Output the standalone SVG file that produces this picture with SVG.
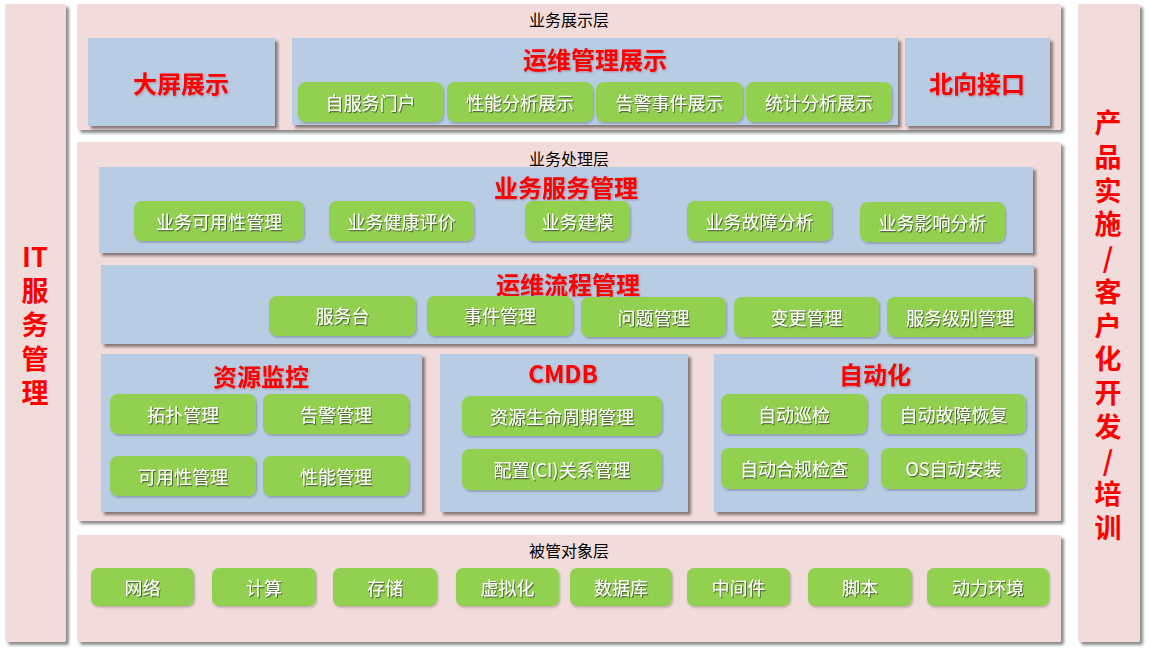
<svg xmlns="http://www.w3.org/2000/svg" width="1149" height="653" viewBox="0 0 1149 653">
<defs>
<filter id="sh" x="-5%" y="-5%" width="112%" height="120%">
<feDropShadow dx="3" dy="3" stdDeviation="1.5" flood-color="#000" flood-opacity="0.45"/>
</filter>
<filter id="gsh" x="-5%" y="-10%" width="110%" height="125%">
<feDropShadow dx="1" dy="1.5" stdDeviation="1" flood-color="#000" flood-opacity="0.25"/>
</filter>
<filter id="tsh" x="-5%" y="-20%" width="110%" height="150%">
<feDropShadow dx="1" dy="1.2" stdDeviation="0.6" flood-color="#333" flood-opacity="0.7"/>
</filter>
<filter id="rsh" x="-5%" y="-20%" width="110%" height="150%">
<feDropShadow dx="1" dy="1" stdDeviation="0.8" flood-color="#800" flood-opacity="0.3"/>
</filter>
</defs>
<style>
.layer{fill:#F2DCDB;filter:url(#sh)}
.blue{fill:#B8CCE4;filter:url(#sh)}
.g{fill:#92D050;filter:url(#gsh)}
.gt{font-family:"Noto Sans CJK SC","Noto Sans",sans-serif;font-size:18px;fill:#fff;text-anchor:middle;dominant-baseline:central;filter:url(#tsh)}
.rt{font-family:"Noto Sans CJK SC","Noto Sans",sans-serif;font-size:24px;font-weight:bold;fill:#FF0000;text-anchor:middle;dominant-baseline:central;filter:url(#rsh)}
.vt{font-family:"Noto Sans CJK SC","Noto Sans",sans-serif;font-size:27px;font-weight:bold;fill:#FF0000;text-anchor:middle;dominant-baseline:central}
.lt{font-family:"Noto Sans CJK SC","Noto Sans",sans-serif;font-size:16px;fill:#000;text-anchor:middle;dominant-baseline:central}
</style>
<rect width="1149" height="653" fill="#fff"/>

<g id="it-service">
<rect class="layer" x="5" y="4" width="61" height="638" rx="2"/>
<text class="vt"><tspan x="35" y="255">IT</tspan><tspan x="35" y="289">服</tspan><tspan x="35" y="323">务</tspan><tspan x="35" y="357">管</tspan><tspan x="35" y="391">理</tspan></text>
</g>

<g id="product-impl">
<rect class="layer" x="1078" y="4" width="62" height="638" rx="2"/>
<text class="vt"><tspan x="1108" y="121">产</tspan><tspan x="1108" y="155">品</tspan><tspan x="1108" y="189">实</tspan><tspan x="1108" y="222">施</tspan><tspan x="1108" y="256">/</tspan><tspan x="1108" y="290">客</tspan><tspan x="1108" y="324">户</tspan><tspan x="1108" y="357">化</tspan><tspan x="1108" y="391">开</tspan><tspan x="1108" y="425">发</tspan><tspan x="1108" y="459">/</tspan><tspan x="1108" y="492">培</tspan><tspan x="1108" y="526">训</tspan></text>
</g>

<g id="layer-display">
<rect class="layer" x="77" y="4" width="984" height="126" rx="2"/>
<text class="lt" x="569" y="19">业务展示层</text>
</g>
<g id="big-screen">
<rect class="blue" x="88" y="38" width="187" height="88"/>
<text class="rt" x="181" y="82">大屏展示</text>
</g>
<g id="ops-display">
<rect class="blue" x="292" y="38" width="606" height="87"/>
<text class="rt" x="595" y="58">运维管理展示</text>
<rect class="g" x="298" y="82" width="145" height="40" rx="8"/><text class="gt" x="370.5" y="102">自服务门户</text>
<rect class="g" x="447" y="82" width="146" height="40" rx="8"/><text class="gt" x="520" y="102">性能分析展示</text>
<rect class="g" x="596" y="82" width="147" height="40" rx="8"/><text class="gt" x="669.5" y="102">告警事件展示</text>
<rect class="g" x="746" y="82" width="146" height="40" rx="8"/><text class="gt" x="819" y="102">统计分析展示</text>
</g>
<g id="north-api">
<rect class="blue" x="905" y="38" width="145" height="88"/>
<text class="rt" x="977" y="82">北向接口</text>
</g>

<g id="layer-process">
<rect class="layer" x="77" y="142" width="984" height="379" rx="2"/>
<text class="lt" x="569" y="158">业务处理层</text>
</g>
<g id="biz-service">
<rect class="blue" x="99" y="167" width="934" height="86"/>
<text class="rt" x="566" y="186">业务服务管理</text>
<rect class="g" x="134" y="201" width="170" height="40" rx="8"/><text class="gt" x="219" y="221">业务可用性管理</text>
<rect class="g" x="329" y="201" width="145" height="40" rx="8"/><text class="gt" x="401.5" y="221">业务健康评价</text>
<rect class="g" x="525" y="201" width="105" height="40" rx="8"/><text class="gt" x="577.5" y="221">业务建模</text>
<rect class="g" x="687" y="201" width="145" height="40" rx="8"/><text class="gt" x="759.5" y="221">业务故障分析</text>
<rect class="g" x="860" y="202" width="145" height="40" rx="8"/><text class="gt" x="932.5" y="222">业务影响分析</text>
</g>
<g id="ops-process">
<rect class="blue" x="101" y="265" width="933" height="79"/>
<text class="rt" x="568" y="283">运维流程管理</text>
<rect class="g" x="269" y="296" width="147" height="40" rx="8"/><text class="gt" x="342.5" y="315">服务台</text>
<rect class="g" x="427" y="296" width="146" height="40" rx="8"/><text class="gt" x="500" y="315">事件管理</text>
<rect class="g" x="581" y="297" width="145" height="40" rx="8"/><text class="gt" x="653.5" y="317">问题管理</text>
<rect class="g" x="734" y="297" width="145" height="40" rx="8"/><text class="gt" x="806.5" y="317">变更管理</text>
<rect class="g" x="887" y="297" width="146" height="40" rx="8"/><text class="gt" x="960" y="317">服务级别管理</text>
</g>
<g id="resource-monitor">
<rect class="blue" x="101" y="354" width="321" height="158"/>
<text class="rt" x="261" y="375">资源监控</text>
<rect class="g" x="110" y="394" width="146" height="40" rx="8"/><text class="gt" x="183" y="414">拓扑管理</text>
<rect class="g" x="263" y="394" width="146" height="40" rx="8"/><text class="gt" x="336" y="414">告警管理</text>
<rect class="g" x="110" y="456" width="146" height="40" rx="8"/><text class="gt" x="183" y="476">可用性管理</text>
<rect class="g" x="263" y="456" width="146" height="40" rx="8"/><text class="gt" x="336" y="476">性能管理</text>
</g>
<g id="cmdb">
<rect class="blue" x="440" y="354" width="248" height="158"/>
<text class="rt" x="563" y="372">CMDB</text>
<rect class="g" x="462" y="396" width="200" height="40" rx="8"/><text class="gt" x="562" y="416">资源生命周期管理</text>
<rect class="g" x="462" y="449" width="200" height="41" rx="8"/><text class="gt" x="562" y="469">配置(CI)关系管理</text>
</g>
<g id="automation">
<rect class="blue" x="714" y="354" width="321" height="158"/>
<text class="rt" x="875" y="373">自动化</text>
<rect class="g" x="721" y="394" width="146" height="40" rx="8"/><text class="gt" x="794" y="414">自动巡检</text>
<rect class="g" x="881" y="394" width="145" height="40" rx="8"/><text class="gt" x="953.5" y="414">自动故障恢复</text>
<rect class="g" x="721" y="448" width="146" height="41" rx="8"/><text class="gt" x="794" y="468">自动合规检查</text>
<rect class="g" x="881" y="448" width="145" height="41" rx="8"/><text class="gt" x="953.5" y="468">OS自动安装</text>
</g>

<g id="layer-managed">
<rect class="layer" x="77" y="535" width="984" height="107" rx="2"/>
<text class="lt" x="569" y="550">被管对象层</text>
<rect class="g" x="91" y="568" width="103" height="38" rx="7"/><text class="gt" x="142.5" y="587">网络</text>
<rect class="g" x="212" y="568" width="104" height="38" rx="7"/><text class="gt" x="264" y="587">计算</text>
<rect class="g" x="333" y="568" width="104" height="38" rx="7"/><text class="gt" x="385" y="587">存储</text>
<rect class="g" x="456" y="568" width="103" height="38" rx="7"/><text class="gt" x="507.5" y="587">虚拟化</text>
<rect class="g" x="570" y="568" width="102" height="38" rx="7"/><text class="gt" x="621" y="587">数据库</text>
<rect class="g" x="687" y="568" width="103" height="38" rx="7"/><text class="gt" x="738.5" y="587">中间件</text>
<rect class="g" x="808" y="568" width="104" height="38" rx="7"/><text class="gt" x="860" y="587">脚本</text>
<rect class="g" x="927" y="568" width="122" height="38" rx="7"/><text class="gt" x="988" y="587">动力环境</text>
</g>
<g id="connectors"/>
</svg>
